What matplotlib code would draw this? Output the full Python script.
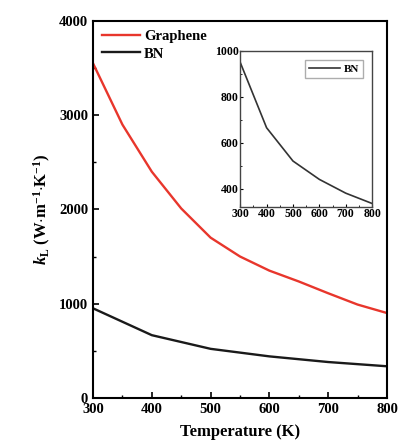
import matplotlib
matplotlib.use('Agg')
import matplotlib.pyplot as plt
from matplotlib.ticker import MultipleLocator

plt.rcParams['font.family'] = ['Liberation Serif', 'DejaVu Serif']
plt.rcParams['font.weight'] = 'bold'
plt.rcParams['axes.labelweight'] = 'bold'
plt.rcParams['mathtext.fontset'] = 'custom'
plt.rcParams['mathtext.default'] = 'bf'
plt.rcParams['mathtext.rm'] = 'Liberation Serif:bold'
plt.rcParams['mathtext.it'] = 'Liberation Serif:italic:bold'
plt.rcParams['mathtext.bf'] = 'Liberation Serif:bold'

# data
temp_g = [300, 350, 400, 450, 500, 550, 600, 650, 700, 750, 800]
kappa_graphene = [3550, 2900, 2400, 2010, 1700, 1500, 1350, 1235, 1110, 990, 900]
temp_bn = [300, 400, 500, 600, 700, 800]
kappa_bn = [950, 665, 520, 440, 380, 335]

fig = plt.figure(figsize=(4.01, 4.46), dpi=100)
ax = fig.add_axes([0.232, 0.108, 0.733, 0.845])
ax.plot(temp_g, kappa_graphene, color='#e8362c', lw=1.7, label='Graphene')
ax.plot(temp_bn, kappa_bn, color='#1a1a1a', lw=1.7, label='BN')
ax.set_xlim(300, 800)
ax.set_ylim(0, 4000)
ax.xaxis.set_major_locator(MultipleLocator(100))
ax.xaxis.set_minor_locator(MultipleLocator(50))
ax.yaxis.set_major_locator(MultipleLocator(1000))
ax.yaxis.set_minor_locator(MultipleLocator(500))
ax.tick_params(which='both', direction='in', labelsize=10.5)
ax.tick_params(which='major', length=4, width=1.2)
ax.tick_params(which='minor', length=2, width=1)
for s in ax.spines.values():
    s.set_linewidth(1.5)
ax.set_xlabel('Temperature (K)', fontsize=12, labelpad=6)
ax.set_ylabel(r'$\mathit{k}_{\mathrm{L}}$ (W$\cdot$m$^{-1}$$\cdot$K$^{-1}$)', fontsize=12, labelpad=4)
ax.legend(loc='upper left', frameon=False, fontsize=10.5, handlelength=2.6,
          borderaxespad=0.2, labelspacing=0.3, handletextpad=0.3)

ins = fig.add_axes([0.599, 0.536, 0.329, 0.350])
ins.plot(temp_bn, kappa_bn, color='#333333', lw=1.2, label='BN')
ins.set_xlim(300, 800)
ins.set_ylim(320, 1000)
ins.xaxis.set_major_locator(MultipleLocator(100))
ins.xaxis.set_minor_locator(MultipleLocator(50))
ins.yaxis.set_major_locator(MultipleLocator(200))
ins.yaxis.set_minor_locator(MultipleLocator(100))
ins.tick_params(which='both', direction='in', labelsize=8.5, pad=1)
ins.tick_params(which='major', length=2.5)
ins.tick_params(which='minor', length=1.5)
for s in ins.spines.values():
    s.set_linewidth(1)
    s.set_color('#444444')
ins.legend(loc='upper right', fontsize=8, handlelength=2.8, fancybox=False,
           edgecolor='#999999', borderaxespad=0.8, handletextpad=0.3)

fig.savefig('out.png', dpi=100)
